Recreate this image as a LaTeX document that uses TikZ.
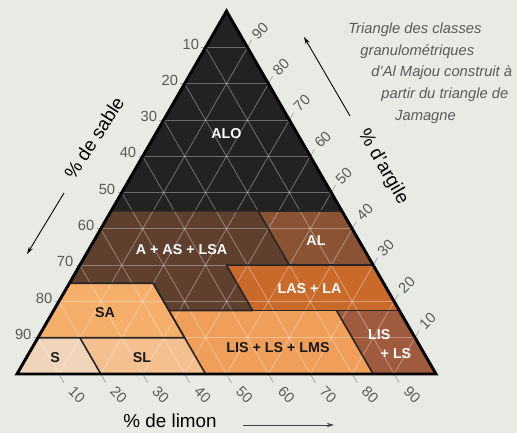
\documentclass[tikz,border=0pt]{standalone}
\usepackage{fontspec}
\setmainfont{Liberation Sans}
\usetikzlibrary{arrows.meta}

\definecolor{bgcol}{HTML}{E8EBE3}
\definecolor{alocol}{HTML}{222222}
\definecolor{aascol}{HTML}{5F3F2E}
\definecolor{alcol}{HTML}{8A5333}
\definecolor{lascol}{HTML}{C96A2B}
\definecolor{lislscol}{HTML}{A05A3E}
\definecolor{lmscol}{HTML}{EF9F5A}
\definecolor{sacol}{HTML}{F6AE6B}
\definecolor{slcol}{HTML}{F5C08F}
\definecolor{scol}{HTML}{F0D5BA}
\definecolor{txtgray}{HTML}{5A5A5A}
\tikzstyle{zone} = [draw=black!85, line width=1.1pt, line join=round]
\tikzstyle{cls} = [font=\fontsize{9.7}{11}\selectfont\bfseries, inner sep=0pt]

\begin{document}
\begin{tikzpicture}[grid/.style={white, opacity=0.33, line width=0.6pt},
			tick/.style={gray!70, line width=0.5pt},
			num/.style={text=txtgray, font=\fontsize{10}{12}\selectfont, inner sep=0pt},
			axis/.style={font=\fontsize{12.8}{14}\selectfont, inner sep=0pt},
			capline/.style={text=txtgray, font=\fontsize{10}{12}\selectfont\itshape, anchor=west, inner sep=0pt},
			arr/.style={-{Stealth[length=5pt,width=3pt]}, line width=0.6pt}]
	\fill[bgcol] (-0.406,-1.408) rectangle (11.933,8.926);
	\useasboundingbox (-0.406,-1.408) rectangle (11.933,8.926);

	% corners and class limits
	\coordinate (A) at (5,8.66);
	\coordinate (B) at (0,0);
	\coordinate (C) at (10,0);
	\coordinate (p1) at (2.25,3.897);
	\coordinate (p2) at (7.75,3.897);
	\coordinate (p3) at (5.75,3.897);
	\coordinate (p4) at (6.5,2.598);
	\coordinate (p5) at (8.5,2.598);
	\coordinate (p6) at (5.0,2.598);
	\coordinate (p7) at (5.625,1.5155);
	\coordinate (p8) at (9.125,1.5155);
	\coordinate (p9) at (7.625,1.5155);
	\coordinate (p10) at (8.5,0);
	\coordinate (p11) at (3.625,1.5155);
	\coordinate (p12) at (3.25,2.165);
	\coordinate (p13) at (1.25,2.165);
	\coordinate (p14) at (4.0,0.866);
	\coordinate (p15) at (4.5,0);
	\coordinate (p16) at (0.5,0.866);
	\coordinate (p17) at (1.5,0.866);
	\coordinate (p18) at (2,0);

	\fill[alocol] (A) -- (p1) -- (p2) -- cycle;
	\fill[aascol] (p1) -- (p3) -- (p4) -- (p6) -- (p7) -- (p11) -- (p12) -- (p13) -- cycle;
	\fill[alcol] (p3) -- (p2) -- (p5) -- (p4) -- cycle;
	\fill[lascol] (p6) -- (p5) -- (p8) -- (p7) -- cycle;
	\fill[lislscol] (p9) -- (p8) -- (C) -- (p10) -- cycle;
	\fill[lmscol] (p11) -- (p9) -- (p10) -- (p15) -- cycle;
	\fill[sacol] (p13) -- (p12) -- (p14) -- (p16) -- cycle;
	\fill[slcol] (p17) -- (p14) -- (p15) -- (p18) -- cycle;
	\fill[scol] (p16) -- (p17) -- (p18) -- (B) -- cycle;

	\foreach \k in {1,...,9}{
		\pgfmathsetmacro{\h}{0.866*\k}
		\pgfmathtruncatemacro{\v}{10*\k}
		\pgfmathtruncatemacro{\w}{100-10*\k}
		\draw[grid] (\k/2,\h) -- (10-\k/2,\h);
		\draw[grid] (\k,0) -- (5+\k/2,8.66-\h);
		\draw[grid] (10-\k,0) -- (5-\k/2,8.66-\h);
		\draw[tick] (\k/2-0.1,\h) -- (\k/2,\h);
		\draw[tick] (10-\k/2,\h) -- (10.1-\k/2,\h+0.173);
		\draw[tick] (\k,0) -- (\k+0.12,-0.208);
		\node (l\k)[num, anchor=east] at (\k/2-0.15,\h+0.08) {\w};
		\node (r\k)[num, rotate=45] at (10.3-\k/2,\h+0.4) {\v};
		\node (b\k)[num, rotate=-45] at (\k+0.43,-0.5) {\v};
	}

	\draw[zone] (p1) -- (p3) -- (p4) -- (p6) -- (p7) -- (p11) -- (p12) -- (p13);
	\draw[zone] (p3) -- (p2);
	\draw[zone] (p4) -- (p5);
	\draw[zone] (p7) -- (p8);
	\draw[zone] (p9) -- (p10);
	\draw[zone] (p11) -- (p15);
	\draw[zone] (p12) -- (p14) -- (p16);
	\draw[zone] (p17) -- (p18);
	\draw[line width=2pt, line join=miter] (A) -- (B) -- (C) -- cycle;

	\node (alo)[cls, white] at (5.0,5.745) {ALO};
	\node (aas)[cls, white] at (3.926,2.96) {A + AS + LSA};
	\node (al)[cls, white] at (7.136,3.174) {AL};
	\node (las)[cls, white] at (6.98,2.045) {LAS + LA};
	\node (lms)[cls, black!90] at (6.229,0.628) {LIS + LS + LMS};
	\node (lis)[cls, white] at (8.647,0.947) {LIS};
	\node (ls)[cls, white] at (9.045,0.494) {+ LS};
	\node (sa)[cls, black!90] at (2.10,1.456) {SA};
	\node (s)[cls, black!90] at (0.907,0.382) {S};
	\node (sl)[cls, black!90] at (2.983,0.382) {SL};

	\node (sable)[axis, rotate=57] at (1.838,5.632) {\% de sable};
	\node (argile)[axis, rotate=-60] at (8.735,4.94) {\% d'argile};
	\node (limon)[axis] at (3.652,-1.12) {\% de limon};
	\coordinate (sa1) at (1.122,4.32);
	\coordinate (sa2) at (0.239,2.864);
	\coordinate (ar1) at (7.947,6.158);
	\coordinate (ar2) at (6.85,8.043);
	\coordinate (li1) at (5.394,-1.217);
	\coordinate (li2) at (7.566,-1.217);
	\draw[arr] (sa1) -- (sa2);
	\draw[arr] (ar1) -- (ar2);
	\draw[arr, black!75] (li1) -- (li2);

	\node (cap1)[capline] at (7.90,8.21) {Triangle des classes};
	\node (cap2)[capline] at (8.19,7.685) {granulométriques};
	\node (cap3)[capline] at (8.45,7.184) {d'Al Majou construit à};
	\node (cap4)[capline] at (8.69,6.659) {partir du triangle de};
	\node (cap5)[capline] at (9.02,6.134) {Jamagne};
\end{tikzpicture}
\end{document}
